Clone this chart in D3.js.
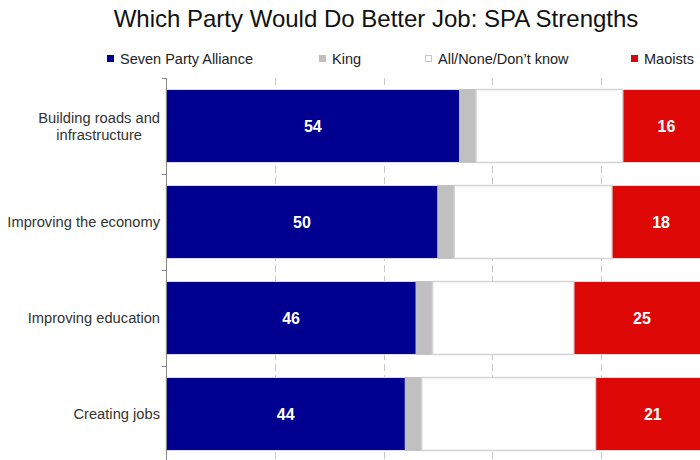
<!DOCTYPE html>
<html>
<head>
<meta charset="utf-8">
<script src="https://cdn.jsdelivr.net/npm/d3@7"></script>
<style>
  html, body { margin: 0; padding: 0; background: #fff; }
  svg { display: block; font-family: "Liberation Sans", Arial, sans-serif; }
</style>
</head>
<body>
<svg id="chart" width="700" height="460"></svg>
<script>
// Survey categories (each may wrap to several lines)
const categories = [
  ["Building roads and", "infrastructure"],
  ["Improving the economy"],
  ["Improving education"],
  ["Creating jobs"]
];
const seriesNames = ["Seven Party Alliance", "King", "All/None/Don\u2019t know", "Maoists"];
const spaValues     = [54, 50, 46, 44];
const kingValues    = [3, 3, 3, 3];
const noneValues    = [27, 29, 26, 32];
const maoistValues  = [16, 18, 25, 21];
const gridTicks = [0, 20, 40, 60, 80, 100];

const colors = ["#000090", "#c0c0c0", "#ffffff", "#dd0806"];
const showLabel = [true, false, false, true];

const svg = d3.select("#chart");
const keys = categories.map(c => c.join(" "));
const rows = keys.map((k, i) => ({
  key: k,
  s0: spaValues[i], s1: kingValues[i], s2: noneValues[i], s3: maoistValues[i]
}));
const stack = d3.stack().keys(["s0", "s1", "s2", "s3"])(rows);

const x = d3.scaleLinear().domain([0, 100]).range([166, 710]);
const y = d3.scaleBand().domain(keys).range([78, 462]).paddingInner(0.24).paddingOuter(0.12);
const top0 = y.range()[0], bot0 = y.range()[1];

// Title
svg.append("text")
  .attr("x", 376).attr("y", 27)
  .attr("text-anchor", "middle")
  .attr("font-size", 24)
  .attr("fill", "#111")
  .text("Which Party Would Do Better Job: SPA Strengths");

// Legend
const legendX = [107, 319, 425, 631];
const legend = svg.append("g");
seriesNames.forEach((name, i) => {
  legend.append("rect")
    .attr("x", legendX[i] + 0.5).attr("y", 55.5)
    .attr("width", 6).attr("height", 6)
    .attr("fill", colors[i])
    .attr("stroke", i === 2 ? "#c8c8c8" : colors[i])
    .attr("stroke-width", 1);
  legend.append("text")
    .attr("x", legendX[i] + 13).attr("y", 64)
    .attr("font-size", 14.5)
    .attr("fill", "#222")
    .text(name);
});

// Vertical gridlines
svg.append("g").selectAll("line")
  .data(gridTicks.slice(1))
  .join("line")
  .attr("x1", d => Math.round(x(d)) + 0.5).attr("x2", d => Math.round(x(d)) + 0.5)
  .attr("y1", top0).attr("y2", bot0)
  .attr("stroke", "#c8c8c8")
  .attr("stroke-width", 1)
  .attr("stroke-dasharray", "7,4");

// Stacked bars
const layers = svg.append("g").selectAll("g")
  .data(stack)
  .join("g");

layers.selectAll("rect")
  .data((d, i) => d.map(v => ({ v, i })))
  .join("rect")
  .attr("x", d => x(d.v[0]))
  .attr("y", d => y(d.v.data.key))
  .attr("width", d => x(d.v[1]) - x(d.v[0]))
  .attr("height", y.bandwidth())
  .attr("fill", d => colors[d.i])
  .attr("stroke", d => d.i === 2 ? "#d4d4d4" : (d.i === 1 ? "#c0c0c0" : "#dcdcdc"))
  .attr("stroke-width", d => d.i === 2 ? 1.5 : 1);

// Value labels
layers.filter((d, i) => showLabel[i]).selectAll("text")
  .data(d => d)
  .join("text")
  .attr("x", d => (x(d[0]) + x(d[1])) / 2)
  .attr("y", d => y(d.data.key) + y.bandwidth() / 2 + 6)
  .attr("text-anchor", "middle")
  .attr("font-size", 16)
  .attr("font-weight", "bold")
  .attr("fill", "#fff")
  .text(d => d[1] - d[0]);

// Category axis: line plus ticks at band boundaries
const axis = svg.append("g");
axis.append("line")
  .attr("x1", x(0) + 0.5).attr("x2", x(0) + 0.5)
  .attr("y1", top0).attr("y2", bot0)
  .attr("stroke", "#888");
const boundaries = keys.map(k => y(k) - y.step() * y.paddingInner() / 2).concat([bot0]);
axis.selectAll("line.tick")
  .data(boundaries)
  .join("line")
  .attr("class", "tick")
  .attr("x1", x(0) - 4).attr("x2", x(0) + 0.5)
  .attr("y1", d => Math.round(d) + 0.5).attr("y2", d => Math.round(d) + 0.5)
  .attr("stroke", "#888");

// Category labels, right aligned to the axis, wrapped lines centred on each other
const lineH = 17;
categories.forEach((lines, i) => {
  const cy = y(keys[i]) + y.bandwidth() / 2;
  const t = axis.append("text")
    .attr("text-anchor", "middle")
    .attr("font-size", 14.7)
    .attr("fill", "#333");
  lines.forEach((ln, j) => {
    t.append("tspan")
      .attr("y", cy + 5 + (j - (lines.length - 1) / 2) * lineH)
      .text(ln);
  });
  let maxW = 0;
  t.selectAll("tspan").each(function () {
    maxW = Math.max(maxW, this.getComputedTextLength());
  });
  t.selectAll("tspan").attr("x", 160 - maxW / 2);
});
</script>
</body>
</html>
